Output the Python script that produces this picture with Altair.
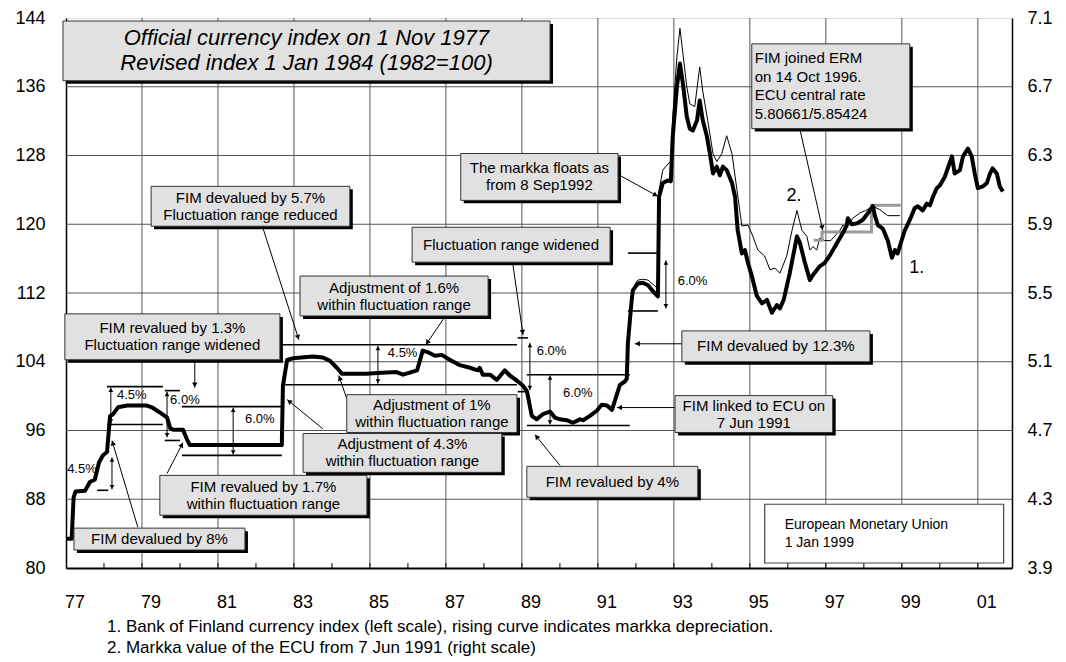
import math
import altair as alt
import pandas as pd

# ---------------- data ----------------
# 1. Bank of Finland currency index (left scale)
idx_year = [1977.00, 1977.15, 1977.20, 1977.25, 1977.50, 1977.63, 1977.76, 1977.87, 1977.97, 1978.08,
            1978.16, 1978.24, 1978.37, 1978.61, 1978.87, 1979.13, 1979.26, 1979.47, 1979.66, 1979.74,
            1979.82, 1980.08, 1980.18, 1980.26, 1981.00, 1982.00, 1982.68, 1982.71, 1982.82, 1982.97,
            1983.50, 1983.76, 1983.95, 1984.13, 1984.26, 1984.90, 1985.20, 1985.70, 1985.87, 1986.24,
            1986.39, 1986.53, 1986.71, 1986.89, 1987.11, 1987.37, 1987.63, 1987.84, 1987.89, 1987.97,
            1988.16, 1988.34, 1988.55, 1988.68, 1988.87, 1989.03, 1989.13, 1989.26, 1989.39, 1989.55,
            1989.74, 1989.87, 1990.00, 1990.18, 1990.34, 1990.53, 1990.61, 1990.79, 1990.97, 1991.10,
            1991.24, 1991.37, 1991.45, 1991.58, 1991.71, 1991.76, 1991.79, 1991.89, 1991.92, 1992.05,
            1992.18, 1992.32, 1992.45, 1992.58, 1992.61, 1992.71, 1992.84, 1992.92, 1992.97, 1993.08,
            1993.16, 1993.24, 1993.34, 1993.42, 1993.50, 1993.61, 1993.68, 1993.76, 1993.87, 1993.95,
            1994.03, 1994.13, 1994.21, 1994.29, 1994.39, 1994.53, 1994.61, 1994.68, 1994.79, 1994.87,
            1994.95, 1995.05, 1995.18, 1995.32, 1995.45, 1995.58, 1995.71, 1995.79, 1995.89, 1996.05,
            1996.24, 1996.32, 1996.45, 1996.58, 1996.66, 1996.84, 1996.97, 1997.11, 1997.29, 1997.45,
            1997.55, 1997.58, 1997.68, 1997.82, 1997.97, 1998.11, 1998.24, 1998.29, 1998.37, 1998.50,
            1998.63, 1998.74, 1998.82, 1998.89, 1998.95, 1999.08, 1999.21, 1999.34, 1999.42, 1999.55,
            1999.66, 1999.74, 1999.82, 1999.92, 2000.00, 2000.13, 2000.32, 2000.39, 2000.53, 2000.61,
            2000.74, 2000.84, 2000.92, 2001.00, 2001.13, 2001.24, 2001.32, 2001.39, 2001.50, 2001.58,
            2001.66]
idx_value = [83.4, 83.4, 88.2, 88.9, 89.0, 90.0, 90.3, 92.3, 93.1, 93.5,
             97.7, 97.9, 98.7, 98.9, 98.9, 98.9, 98.7, 98.1, 97.5, 96.3,
             96.1, 96.1, 95.0, 94.3, 94.3, 94.3, 94.3, 101.2, 104.2, 104.4,
             104.6, 104.5, 104.1, 103.3, 102.6, 102.6, 102.7, 102.8, 102.5, 103.0,
             105.3, 105.1, 104.7, 104.8, 104.2, 103.6, 103.3, 103.0, 103.3, 102.5,
             102.5, 101.9, 103.0, 102.4, 101.8, 101.2, 100.6, 97.7, 97.3, 97.9,
             98.2, 97.5, 97.3, 97.2, 96.9, 97.3, 97.2, 97.7, 98.3, 99.0,
             98.9, 98.4, 99.5, 101.3, 101.7, 102.0, 106.2, 111.2, 112.3, 113.1,
             113.2, 112.9, 112.2, 111.6, 123.2, 124.8, 125.1, 125.0, 130.2, 136.0,
             138.7, 136.3, 132.5, 131.1, 130.9, 132.1, 134.4, 132.1, 130.2, 128.2,
             125.9, 126.7, 125.7, 126.7, 126.3, 124.8, 123.2, 119.3, 116.6, 117.0,
             115.5, 114.0, 111.7, 110.8, 111.2, 109.7, 110.6, 110.2, 111.2, 114.3,
             118.6, 117.8, 115.5, 113.5, 114.1, 115.1, 115.5, 116.4, 117.8, 119.0,
             119.9, 120.7, 120.0, 120.1, 120.5, 121.3, 122.1, 121.0, 119.9, 119.5,
             118.1, 116.1, 117.0, 116.6, 117.5, 119.3, 120.5, 121.9, 122.1, 121.6,
             122.4, 122.2, 123.2, 124.2, 124.5, 125.5, 127.9, 125.9, 126.3, 127.9,
             128.8, 127.9, 125.9, 124.2, 124.4, 124.8, 125.9, 126.5, 125.9, 124.4,
             123.8]

# 2. Markka value of the ECU from 7 Jun 1991 (right scale)
ecu_year = [1991.45, 1991.58, 1991.71, 1991.76, 1991.79, 1991.89, 1991.95, 1992.05, 1992.18, 1992.32,
            1992.45, 1992.58, 1992.61, 1992.71, 1992.84, 1992.92, 1992.97, 1993.08, 1993.16, 1993.24,
            1993.34, 1993.42, 1993.55, 1993.68, 1993.76, 1993.89, 1994.03, 1994.13, 1994.26, 1994.39,
            1994.53, 1994.66, 1994.79, 1994.95, 1995.08, 1995.21, 1995.39, 1995.53, 1995.66, 1995.79,
            1995.97, 1996.11, 1996.24, 1996.37, 1996.50, 1996.58, 1996.66, 1996.76, 1996.84, 1996.97,
            1997.13, 1997.37, 1997.45, 1997.53, 1997.71, 1997.89, 1998.05, 1998.24, 1998.42, 1998.63,
            1998.95]
ecu_value = [4.88, 4.97, 4.99, 5.01, 5.22, 5.475, 5.54, 5.575, 5.58, 5.575,
             5.55, 5.525, 6.10, 6.215, 6.25, 6.265, 6.525, 6.875, 7.04, 6.89,
             6.70, 6.60, 6.585, 6.815, 6.675, 6.505, 6.31, 6.265, 6.31, 6.415,
             6.31, 6.10, 5.89, 5.895, 5.83, 5.75, 5.715, 5.635, 5.645, 5.615,
             5.715, 5.865, 5.98, 5.865, 5.83, 5.75, 5.77, 5.75, 5.82, 5.805,
             5.805, 5.865, 5.895, 5.875, 5.935, 5.965, 5.98, 6.005, 5.985, 5.95,
             5.95]

# ECU central rate (right scale)
erm_year = [1996.68, 1996.90, 1996.90, 1998.20, 1998.20, 1998.97]
erm_value = [5.80661, 5.80661, 5.85424, 5.85424, 6.01, 6.01]

left_ticks = [80, 88, 96, 104, 112, 120, 128, 136, 144]
right_ticks = [3.9, 4.3, 4.7, 5.1, 5.5, 5.9, 6.3, 6.7, 7.1]
year_labels = [1977, 1979, 1981, 1983, 1985, 1987, 1989, 1991, 1993, 1995, 1997, 1999, 2001]
minor_years = list(range(1978, 2002))

# fluctuation-range limit lines
band_x1 = [1977.82, 1978.08, 1978.08, 1979.60, 1979.60, 1980.05, 1980.05, 1982.71, 1982.71,
           1988.89, 1988.89, 1989.13, 1989.13, 1991.79, 1991.79]
band_x2 = [1978.11, 1979.55, 1979.55, 1980.00, 1980.00, 1982.68, 1982.68, 1988.87, 1988.87,
           1989.16, 1989.16, 1991.84, 1991.84, 1992.58, 1992.58]
band_y = [89.04, 101.1, 96.7, 100.64, 94.84, 98.78, 93.1, 105.97, 101.33,
          106.78, 100.52, 102.49, 96.58, 116.64, 109.91]

# width-of-range double arrows
span_x = [1978.21, 1978.18, 1979.66, 1981.40, 1985.21, 1989.21, 1989.74, 1992.79]
span_top = [92.87, 101.0, 100.5, 98.66, 105.85, 106.2, 102.4, 115.8]
span_bottom = [89.16, 96.8, 95.2, 93.2, 101.45, 100.7, 96.7, 110.2]
pct_text = ["4.5%", "4.5%", "6.0%", "6.0%", "4.5%", "6.0%", "6.0%", "6.0%"]
pct_x = [1977.03, 1978.34, 1979.74, 1981.71, 1985.47, 1989.39, 1990.08, 1993.10]
pct_y = [91.48, 100.17, 99.6, 97.3, 105.04, 105.28, 100.4, 113.4]

# shaded annotation boxes
box_text = ["FIM devalued by 5.7%\nFluctuation range reduced",
            "FIM revalued by 1.3%\nFluctuation range widened",
            "Adjustment of 1.6%\nwithin fluctuation range",
            "Fluctuation range widened",
            "Adjustment of 1%\nwithin fluctuation range",
            "Adjustment of 4.3%\nwithin fluctuation range",
            "FIM revalued by 1.7%\nwithin fluctuation range",
            "FIM devalued by 8%",
            "FIM revalued by 4%",
            "FIM linked to ECU on\n7 Jun 1991",
            "FIM devalued by 12.3%",
            "The markka floats as\nfrom 8 Sep1992"]
box_x1 = [1979.24, 1976.97, 1983.16, 1986.11, 1984.39, 1983.24, 1979.47, 1977.21, 1989.13, 1993.03, 1993.21, 1987.39]
box_x2 = [1984.47, 1982.63, 1988.11, 1991.32, 1988.87, 1988.47, 1984.92, 1981.71, 1993.63, 1997.18, 1998.16, 1991.53]
box_y1 = [119.77, 104.23, 109.33, 115.59, 95.77, 91.13, 86.14, 82.09, 88.23, 95.77, 104.0, 122.78]
box_y2 = [124.41, 109.57, 113.97, 119.65, 100.17, 95.65, 90.78, 84.64, 91.83, 100.06, 107.59, 128.23]

erm_text = "FIM joined ERM\non 14 Oct 1996.\nECU central rate\n5.80661/5.85424"
erm_box = [1995.05, 1999.21, 131.13, 140.99]

title_text = "Official currency index on 1 Nov 1977\nRevised index 1 Jan 1984 (1982=100)"
title_box = [1976.92, 1989.74, 136.7, 143.65]

emu_text = "European Monetary Union\n1 Jan 1999"
emu_box = [1995.39, 2001.68, 80.58, 87.42]

# pointer arrows: from -> to (head at "to")
arr_x1 = [1982.18, 1980.39, 1986.97, 1988.76, 1984.39, 1983.76, 1979.66, 1978.89, 1990.00, 1993.03, 1993.21, 1991.58, 1996.32]
arr_y1 = [119.6, 104.1, 109.2, 115.4, 99.7, 96.2, 91.0, 84.75, 91.94, 98.67, 106.09, 125.68, 131.0]
arr_x2 = [1983.13, 1980.39, 1986.47, 1989.03, 1984.18, 1982.82, 1980.08, 1978.21, 1989.34, 1991.50, 1991.97, 1992.58, 1996.92]
arr_y2 = [106.55, 100.98, 105.97, 107.13, 102.4, 99.6, 94.6, 94.84, 95.54, 98.67, 106.09, 123.25, 119.3]

series_labels = ["2.", "1."]
series_label_x = [1996.16, 1999.39]
series_label_y = [123.25, 114.9]

footnotes = ["1. Bank of Finland currency index (left scale), rising curve indicates markka depreciation.",
             "2. Markka value of the ECU from 7 Jun 1991 (right scale)"]

# ---------------- geometry / style ----------------
W, H = 946, 550
XD = [1977, 2001.9]
YD = [80, 144]
RD = [3.9, 7.1]
PX = W / (XD[1] - XD[0])   # px per year
PY = H / (YD[1] - YD[0])   # px per index point
FONT = "Liberation Sans"
SH = 3.0                   # shadow offset, px
GRID = "#555555"

xs = alt.Scale(domain=XD, nice=False, zero=False)
ys = alt.Scale(domain=YD, nice=False, zero=False)
rs = alt.Scale(domain=RD, nice=False, zero=False)

AXX = alt.Axis(values=year_labels, labelExpr="substring(format(datum.value,'d'),2,4)",
               labelOffset=8.5, labelPadding=34, labelBaseline="middle", ticks=False, tickSize=0,
               grid=False, domainColor="black", domainWidth=2,
               labelFontSize=18, labelFont=FONT, labelColor="black", title=None,
               labelFlush=False, labelOverlap=False)
AXY = alt.Axis(values=left_ticks, orient="left", labelPadding=21, ticks=False, tickSize=0,
               grid=False, domainColor="black", domainWidth=1.5,
               labelFontSize=18, labelFont=FONT, labelColor="black", title=None,
               labelBaseline="middle", labelFlush=False, labelOverlap=False)
AXR = alt.Axis(values=right_ticks, orient="right", format=".1f", labelPadding=15, ticks=False,
               tickSize=0, grid=False, domainColor="black", domainWidth=1.5, labelFontSize=18,
               labelFont=FONT, labelColor="black", title=None, labelBaseline="middle",
               labelFlush=False, labelOverlap=False)


def X(f):
    return alt.X(f, type="quantitative", scale=xs, axis=AXX)


def Y(f):
    return alt.Y(f, type="quantitative", scale=ys, axis=AXY)


def R(f):
    return alt.Y(f, type="quantitative", scale=rs, axis=AXR)


def heads(x1, y1, x2, y2, back=3.5):
    rows = []
    for a, b, c, d in zip(x1, y1, x2, y2):
        sx = (c - a) * PX
        sy = -(d - b) * PY
        L = math.hypot(sx, sy) or 1.0
        ang = math.degrees(math.atan2(sx, -sy)) % 360
        rows.append({"x": c - sx / L * back / PX, "y": d + sy / L * back / PY, "angle": ang})
    return pd.DataFrame(rows)


def text_rows(texts, xpos, cys, lh):
    rows = []
    for t, x, cy in zip(texts, xpos, cys):
        lines = t.split("\n")
        n = len(lines)
        for i, ln in enumerate(lines):
            rows.append({"text": ln, "x": x, "y": cy + ((n - 1) / 2 - i) * lh / PY})
    return pd.DataFrame(rows)


def rect_df(x1, x2, y1, y2):
    return pd.DataFrame({"x1": x1, "x2": x2, "y1": y1, "y2": y2})


def shadow_df(df):
    return pd.DataFrame({"x1": df.x1 + SH / PX, "x2": df.x2 + SH / PX,
                         "y1": df.y1 - SH / PY, "y2": df.y2 - SH / PY})


idx_df = pd.DataFrame({"year": idx_year, "value": idx_value})
ecu_df = pd.DataFrame({"year": ecu_year, "value": ecu_value})
erm_df = pd.DataFrame({"year": erm_year, "value": erm_value, "idx": list(range(len(erm_year)))})
band_df = pd.DataFrame({"x1": band_x1, "x2": band_x2, "y": band_y})
span_df = pd.DataFrame({"x": span_x, "top": span_top, "bottom": span_bottom})
pct_df = pd.DataFrame({"text": pct_text, "x": pct_x, "y": pct_y})
arr_df = pd.DataFrame({"x1": arr_x1, "y1": arr_y1, "x2": arr_x2, "y2": arr_y2})
arr_head_df = heads(arr_x1, arr_y1, arr_x2, arr_y2)
span_head_df = pd.concat([
    heads(span_x, span_bottom, span_x, span_top, back=3),
    heads(span_x, span_top, span_x, span_bottom, back=3)], ignore_index=True)
lab_df = pd.DataFrame({"text": series_labels, "x": series_label_x, "y": series_label_y})
minor_df = pd.DataFrame({"year": minor_years, "y0": [YD[0]] * len(minor_years),
                         "y1": [YD[0] + 5 / PY] * len(minor_years)})
vgrid_df = pd.DataFrame({"year": year_labels[1:]})
hgrid_df = pd.DataFrame({"value": right_ticks[1:-1]})

# all shaded boxes (annotation + ERM + title)
shade_df = rect_df(box_x1 + [erm_box[0], title_box[0]], box_x2 + [erm_box[1], title_box[1]],
                   box_y1 + [erm_box[2], title_box[2]], box_y2 + [erm_box[3], title_box[3]])
shade_shadow_df = shadow_df(shade_df)
emu_rect_df = rect_df([emu_box[0]], [emu_box[1]], [emu_box[2]], [emu_box[3]])

box_txt_df = text_rows(box_text, [(a + b) / 2 for a, b in zip(box_x1, box_x2)],
                       [(a + b) / 2 for a, b in zip(box_y1, box_y2)], 17)
erm_txt_df = text_rows([erm_text], [erm_box[0] + 3 / PX], [(erm_box[2] + erm_box[3]) / 2], 18.5)
title_txt_df = text_rows([title_text], [(title_box[0] + title_box[1]) / 2],
                         [(title_box[2] + title_box[3]) / 2], 25)
emu_txt_df = text_rows([emu_text], [emu_box[0] + 20 / PX], [(emu_box[2] + emu_box[3]) / 2], 18)

# --- right-scale group (drawn first: grid, thin line, central rate) ---
vgrid = alt.Chart(vgrid_df).mark_rule(color=GRID, strokeWidth=1).encode(x=X("year"))
hgrid = alt.Chart(hgrid_df).mark_rule(color=GRID, strokeWidth=1).encode(y=R("value"))
thin = alt.Chart(ecu_df).mark_line(color="black", strokeWidth=1).encode(
    x=X("year"), y=R("value"), order="year:Q")
gray = alt.Chart(erm_df).mark_line(color="#9a9a9a", strokeWidth=3).encode(
    x=X("year"), y=R("value"), order="idx:Q")
right_group = alt.layer(vgrid, hgrid, thin, gray)

# --- left-scale group ---
thick = alt.Chart(idx_df).mark_line(color="black", strokeWidth=4, strokeJoin="round").encode(
    x=X("year"), y=Y("value"), order="year:Q")

minor = alt.Chart(minor_df).mark_rule(color="black", strokeWidth=1).encode(
    x=X("year"), y=Y("y0"), y2="y1")

bands = alt.Chart(band_df).mark_rule(color="black", strokeWidth=1.6).encode(
    x=X("x1"), x2="x2", y=Y("y"))

spans = alt.Chart(span_df).mark_rule(color="black", strokeWidth=1).encode(
    x=X("x"), y=Y("top"), y2="bottom")
span_heads = alt.Chart(span_head_df).mark_point(shape="triangle", filled=True, size=22,
                                                color="black", opacity=1).encode(
    x=X("x"), y=Y("y"), angle=alt.Angle("angle:Q", scale=None))
pcts = alt.Chart(pct_df).mark_text(align="left", baseline="middle", fontSize=13, font=FONT,
                                   color="black").encode(x=X("x"), y=Y("y"), text="text:N")

arrows = alt.Chart(arr_df).mark_rule(color="black", strokeWidth=1).encode(
    x=X("x1"), y=Y("y1"), x2="x2", y2="y2")
arrow_heads = alt.Chart(arr_head_df).mark_point(shape="triangle", filled=True, size=30,
                                                color="black", opacity=1).encode(
    x=X("x"), y=Y("y"), angle=alt.Angle("angle:Q", scale=None))

shadows = alt.Chart(shade_shadow_df).mark_rect(color="black").encode(
    x=X("x1"), x2="x2", y=Y("y1"), y2="y2")
shades = alt.Chart(shade_df).mark_rect(fill="#e1e1e1", stroke="#333333", strokeWidth=1).encode(
    x=X("x1"), x2="x2", y=Y("y1"), y2="y2")
emu_rect = alt.Chart(emu_rect_df).mark_rect(fill="white", stroke="#444444", strokeWidth=1.2).encode(
    x=X("x1"), x2="x2", y=Y("y1"), y2="y2")

box_texts = alt.Chart(box_txt_df).mark_text(align="center", baseline="middle", fontSize=15,
                                            font=FONT, color="black").encode(
    x=X("x"), y=Y("y"), text="text:N")
erm_texts = alt.Chart(erm_txt_df).mark_text(align="left", baseline="middle", fontSize=15,
                                            font=FONT, color="black").encode(
    x=X("x"), y=Y("y"), text="text:N")
title_texts = alt.Chart(title_txt_df).mark_text(align="center", baseline="middle", fontSize=22,
                                                fontStyle="italic", font=FONT, color="black").encode(
    x=X("x"), y=Y("y"), text="text:N")
emu_texts = alt.Chart(emu_txt_df).mark_text(align="left", baseline="middle", fontSize=14,
                                            font=FONT, color="black").encode(
    x=X("x"), y=Y("y"), text="text:N")

labels = alt.Chart(lab_df).mark_text(align="center", baseline="middle", fontSize=18, font=FONT,
                                     color="black").encode(x=X("x"), y=Y("y"), text="text:N")

left_group = alt.layer(
    minor, bands, spans, span_heads, pcts, thick, arrows, arrow_heads,
    shadows, shades, emu_rect, box_texts, erm_texts, title_texts, emu_texts, labels)

chart = alt.layer(right_group, left_group).resolve_scale(y="independent").properties(
    width=W, height=H,
    autosize=alt.AutoSizeParams(type="none"),
    padding={"left": 58, "top": 10, "right": 46, "bottom": 88},
    title=alt.TitleParams(text=footnotes, orient="bottom", anchor="start", frame="group",
                          dx=41, offset=8, fontSize=17, fontWeight="normal", font=FONT,
                          color="black", lineHeight=21),
).configure_view(stroke="black", strokeWidth=1.5).configure(background="white")

chart.save("out.html", embed_options={"renderer": "svg", "actions": False})
